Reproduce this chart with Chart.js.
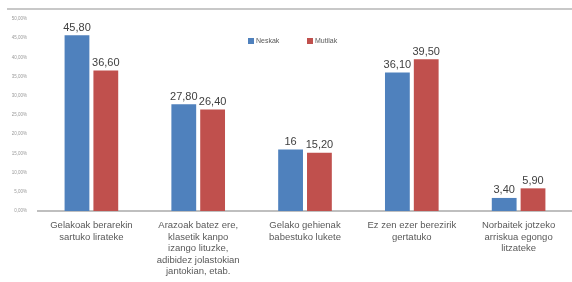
<!DOCTYPE html>
<html>
<head>
<meta charset="utf-8">
<script src="https://cdn.jsdelivr.net/npm/chart.js@4"></script>
<style>
  html, body { margin: 0; padding: 0; background: #fff; }
  #wrap { width: 572px; height: 282px; position: relative; }
</style>
</head>
<body>
<div id="wrap"><canvas id="chart" width="572" height="282"></canvas></div>
<script>
// Data
const categories = [
    ['Gelakoak berarekin', 'sartuko lirateke'],
    ['Arazoak batez ere,', 'klasetik kanpo', 'izango lituzke,', 'adibidez jolastokian', 'jantokian, etab.'],
    ['Gelako gehienak', 'babestuko lukete'],
    ['Ez zen ezer berezirik', 'gertatuko'],
    ['Norbaitek jotzeko', 'arriskua egongo', 'litzateke']
];
const seriesNames = ['Neskak', 'Mutilak'];
const neskak = [45.80, 27.80, 16, 36.10, 3.40];
const mutilak = [36.60, 26.40, 15.20, 39.50, 5.90];
const colors = ['#4F81BD', '#C0504D'];

function fmt(v) {
    return Number.isInteger(v) ? String(v) : v.toFixed(2).replace('.', ',');
}

// value labels above the bars
const valueLabels = {
    id: 'valueLabels',
    afterDatasetsDraw(chart) {
        const ctx = chart.ctx;
        ctx.save();
        ctx.font = '11px "Liberation Sans", Arial, sans-serif';
        ctx.fillStyle = '#404040';
        ctx.textAlign = 'center';
        ctx.textBaseline = 'bottom';
        chart.data.datasets.forEach((ds, i) => {
            chart.getDatasetMeta(i).data.forEach((bar, j) => {
                ctx.fillText(fmt(ds.data[j]), bar.x, bar.y - 2);
            });
        });
        ctx.restore();
    }
};

// top rule and the inline legend
const decorations = {
    id: 'decorations',
    beforeDraw(chart) {
        const ctx = chart.ctx;
        ctx.save();
        ctx.fillStyle = '#c8c8c8';
        ctx.fillRect(7, 8, 565, 2);
        ctx.restore();
    },
    afterDraw(chart) {
        const ctx = chart.ctx;
        ctx.save();
        ctx.font = '7px "Liberation Sans", Arial, sans-serif';
        ctx.textBaseline = 'middle';
        ctx.textAlign = 'left';
        const xs = [248, 307];
        seriesNames.forEach((name, i) => {
            ctx.fillStyle = colors[i];
            ctx.fillRect(xs[i], 38, 6, 6);
            ctx.fillStyle = '#595959';
            ctx.fillText(name, xs[i] + 8, 41.5);
        });
        ctx.restore();
    }
};

const ctx = document.getElementById('chart').getContext('2d');
const chart = new Chart(ctx, {
    type: 'bar',
    data: {
        labels: categories,
        datasets: [{
            label: seriesNames[0],
            data: neskak,
            backgroundColor: colors[0],
            barPercentage: 0.86,
            categoryPercentage: 0.54
        }, {
            label: seriesNames[1],
            data: mutilak,
            backgroundColor: colors[1],
            barPercentage: 0.86,
            categoryPercentage: 0.54
        }]
    },
    options: {
        responsive: false,
        animation: false,
        layout: { padding: { top: 19, left: 0, right: 0, bottom: 0 } },
        plugins: {
            legend: { display: false },
            tooltip: { enabled: false }
        },
        scales: {
            x: {
                grid: { display: false, drawTicks: false },
                border: { color: '#bfbfbf', width: 2 },
                ticks: {
                    color: '#595959',
                    font: { family: '"Liberation Sans", Arial, sans-serif', size: 9.5, lineHeight: 1.2 },
                    padding: 9,
                    maxRotation: 0,
                    autoSkip: false
                },
                afterFit(scale) { scale.height = 71; }
            },
            y: {
                min: 0,
                max: 50,
                grid: { display: false, drawTicks: false },
                border: { display: false },
                ticks: {
                    stepSize: 5,
                    color: '#9a9a9a',
                    font: { family: '"Liberation Sans", Arial, sans-serif', size: 4.5 },
                    padding: 11,
                    callback: v => v.toFixed(2).replace('.', ',') + '%'
                },
                afterFit(scale) { scale.width = 38; }
            }
        }
    },
    plugins: [valueLabels, decorations]
});
</script>
</body>
</html>
